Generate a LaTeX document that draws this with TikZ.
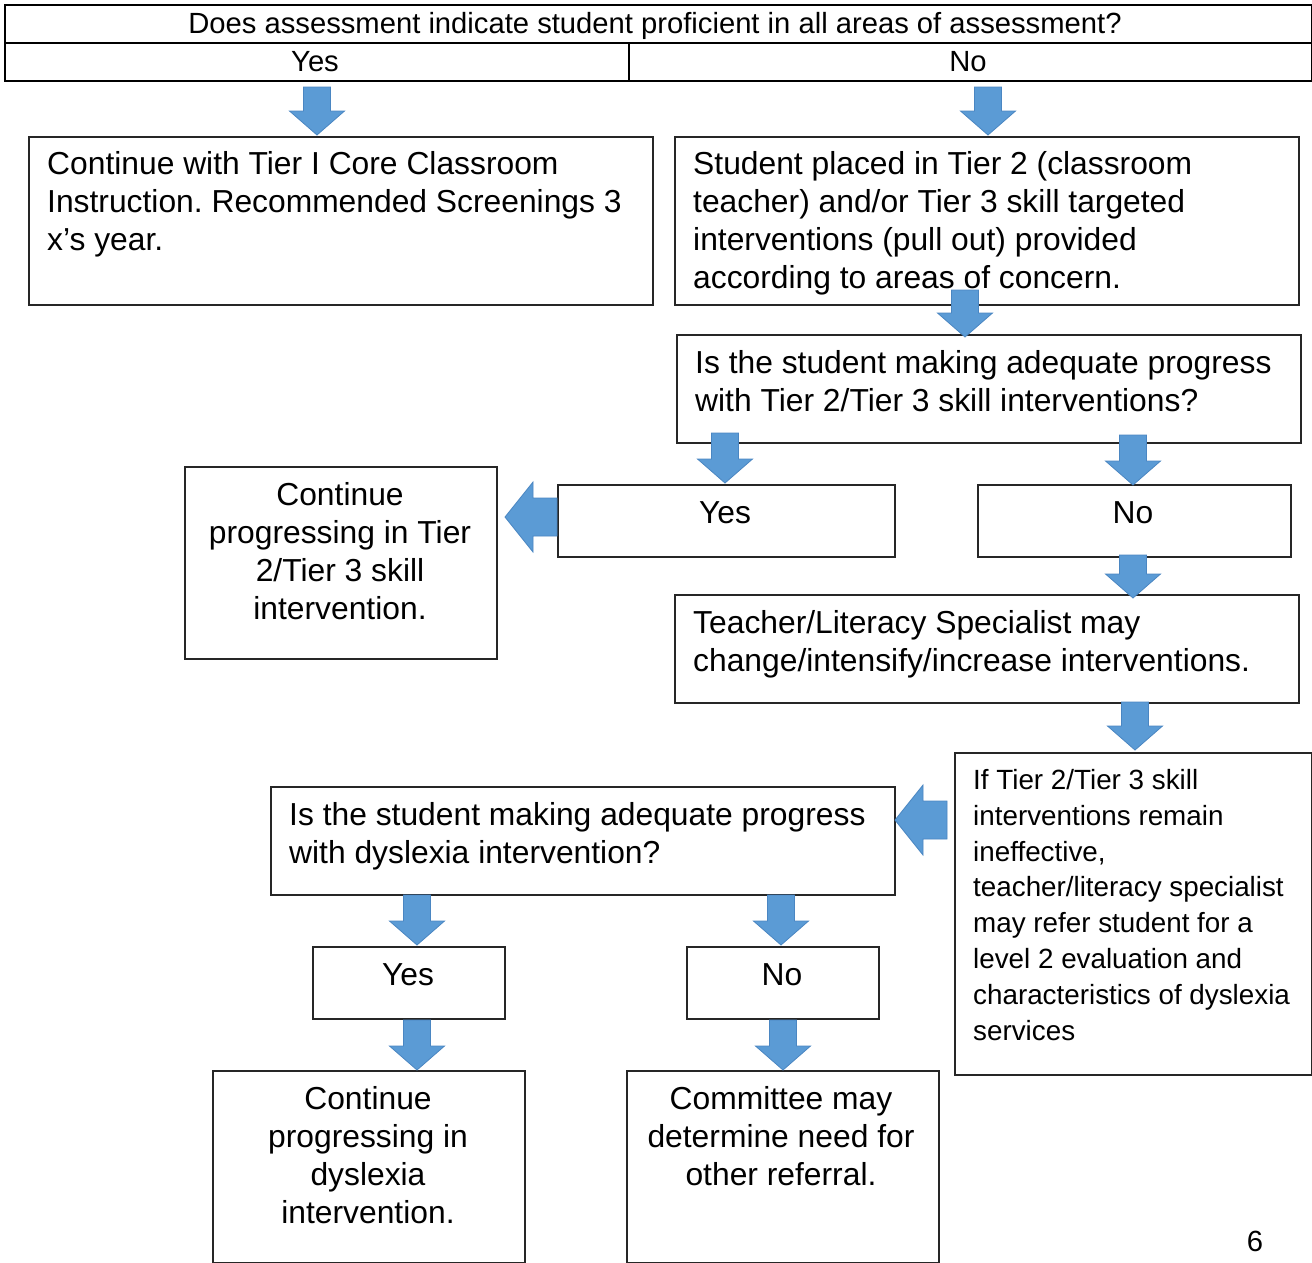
\documentclass[tikz,border=0pt]{standalone}
\usepackage{fontspec}
\setmainfont{Liberation Sans}
\frenchspacing
\definecolor{arrowblue}{HTML}{5B9BD5}
\definecolor{arrowedge}{HTML}{4A86C2}
\definecolor{boxline}{HTML}{262626}
\newcommand\bodyfont{\fontsize{31.8}{38}\selectfont}
\newcommand\smallbodyfont{\fontsize{27.8}{35.9}\selectfont}
\newcommand\headfont{\fontsize{29.2}{38}\selectfont}
\newcommand\FL{\rule{0pt}{26pt}}
\newcommand\FLs{\rule{0pt}{23pt}}
\newcommand\DownBlock[3]{\filldraw[blockarrow] (#1-13.5,#2) -- (#1+13.5,#2) -- (#1+13.5,#3-24) -- (#1+27.5,#3-24) -- (#1,#3) -- (#1-27.5,#3-24) -- (#1-13.5,#3-24) -- cycle;}
\newcommand\LeftBlock[3]{\filldraw[blockarrow] (#1,#2) -- (#1+28,#2-35) -- (#1+28,#2-19) -- (#3,#2-19) -- (#3,#2+19) -- (#1+28,#2+19) -- (#1+28,#2+35) -- cycle;}
\begin{document}
\begin{tikzpicture}[x=1pt,y=-1pt,
  box/.style={draw=boxline, line width=2pt, fill=white, rectangle, anchor=north west, inner sep=0pt},
  cell/.style={draw=black, line width=2pt, rectangle, anchor=north west, inner sep=0pt},
  txt/.style={inner sep=0pt, anchor=north west, align=left, font=\bodyfont},
  ctxt/.style={inner sep=0pt, anchor=north, align=center, font=\bodyfont},
  blockarrow/.style={fill=arrowblue, draw=arrowedge, line width=0.8pt, line join=miter}]
\useasboundingbox (0,0) rectangle (1312,1262);
\fill[white] (0,0) rectangle (1312,1262);

% header table
\node[cell, minimum width=1307pt, minimum height=38pt] (q) at (4,4) {};
\node[cell, minimum width=624pt, minimum height=38pt] (qy) at (4,42) {};
\node[cell, minimum width=683pt, minimum height=38pt] (qn) at (628,42) {};
\node[inner sep=0pt, anchor=base, font=\headfont] (qt) at (655,33) {Does assessment indicate student proficient in all areas of assessment?};
\node[inner sep=0pt, anchor=base, font=\headfont] (qyt) at (315,71) {Yes};
\node[inner sep=0pt, anchor=base, font=\headfont] (qnt) at (968,71) {No};

% boxes
\node[box, minimum width=624pt, minimum height=168pt] (A) at (28,136) {};
\node[box, minimum width=624pt, minimum height=168pt] (B) at (674,136) {};
\node[box, minimum width=624pt, minimum height=108pt] (C) at (676,334) {};
\node[box, minimum width=337pt, minimum height=72pt] (D) at (557,484) {};
\node[box, minimum width=313pt, minimum height=72pt] (E) at (977,484) {};
\node[box, minimum width=312pt, minimum height=192pt] (F) at (184,466) {};
\node[box, minimum width=624pt, minimum height=108pt] (G) at (674,594) {};
\node[box, minimum width=357pt, minimum height=322pt] (H) at (954,752) {};
\node[box, minimum width=624pt, minimum height=108pt] (I) at (270,786) {};
\node[box, minimum width=192pt, minimum height=72pt] (J) at (312,946) {};
\node[box, minimum width=192pt, minimum height=72pt] (K) at (686,946) {};
\node[box, minimum width=312pt, minimum height=192pt] (L) at (212,1070) {};
\node[box, minimum width=312pt, minimum height=192pt] (M) at (626,1070) {};

% texts
\node[txt] (At) at (47,174-26) {\FL Continue with Tier I Core Classroom\\Instruction. Recommended Screenings 3\\x’s year.};
\node[txt] (Bt) at (693,174-26) {\FL Student placed in Tier 2 (classroom\\teacher) and/or Tier 3 skill targeted\\interventions (pull out) provided\\according to areas of concern.};
\node[txt] (Ct) at (695,373-26) {\FL Is the student making adequate progress\\with Tier 2/Tier 3 skill interventions?};
\node[ctxt] (Dt) at (725,523-26) {\FL Yes};
\node[ctxt] (Et) at (1133,523-26) {\FL No};
\node[ctxt] (Ft) at (340,505-26) {\FL Continue\\progressing in Tier\\2/Tier 3 skill\\intervention.};
\node[txt] (Gt) at (693,633-26) {\FL Teacher/Literacy Specialist may\\change/intensify/increase interventions.};
\node[txt, font=\smallbodyfont] (Ht) at (973,789-23) {\FLs If Tier 2/Tier 3 skill\\interventions remain\\ineffective,\\teacher/literacy specialist\\may refer student for a\\level 2 evaluation and\\characteristics of dyslexia\\services};
\node[txt] (It) at (289,825-26) {\FL Is the student making adequate progress\\with dyslexia intervention?};
\node[ctxt] (Jt) at (408,985-26) {\FL Yes};
\node[ctxt] (Kt) at (782,985-26) {\FL No};
\node[ctxt] (Lt) at (368,1109-26) {\FL Continue\\progressing in\\dyslexia\\intervention.};
\node[ctxt] (Mt) at (781,1109-26) {\FL Committee may\\determine need for\\other referral.};
\node[inner sep=0pt, anchor=base, font=\headfont] (pg) at (1255,1251) {6};

% block arrows
\DownBlock{317}{87}{135}
\DownBlock{988}{87}{135}
\DownBlock{965}{290}{337}
\DownBlock{725}{433}{483}
\DownBlock{1133}{435}{485}
\DownBlock{1133}{555}{598}
\DownBlock{1135}{702}{750}
\DownBlock{417}{895}{945}
\DownBlock{781}{895}{945}
\DownBlock{417}{1020}{1070}
\DownBlock{783}{1020}{1070}
\LeftBlock{505}{517}{557}
\LeftBlock{895}{820}{947}
\end{tikzpicture}
\end{document}
